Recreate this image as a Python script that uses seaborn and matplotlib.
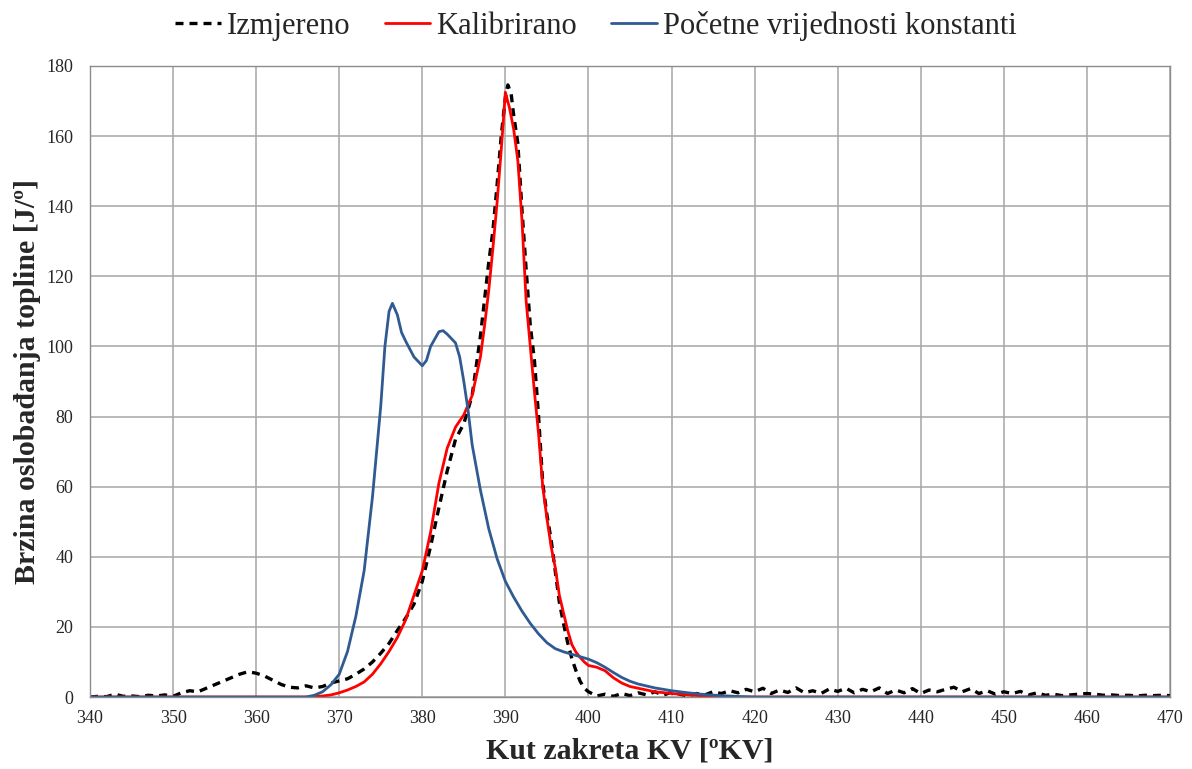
import numpy as np
import pandas as pd
import seaborn as sns
from matplotlib import pyplot as plt

# Izmjereno (measured)
izm_x = [340, 341, 342, 343, 344, 345, 346, 347, 348, 349, 350, 351, 352, 353, 354, 355,
         356, 357, 358, 359, 360, 361, 362, 363, 364, 365, 366, 367, 368, 369, 370, 371,
         372, 373, 374, 375, 376, 377, 378, 379, 380, 381, 382, 383, 384, 385, 386, 387,
         388, 388.5, 389, 389.5, 390, 390.3, 390.7, 391, 391.5, 392, 392.5, 393, 393.5,
         394, 394.5, 395, 395.5, 396, 396.5, 397, 397.5, 398, 398.5, 399, 399.5, 400,
         401, 402, 403, 404, 405, 406, 407, 408, 409, 410, 411, 412, 413, 414, 415, 416,
         417, 418, 419, 420, 421, 422, 423, 424, 425, 426, 427, 428, 429, 430, 431, 432,
         433, 434, 435, 436, 437, 438, 439, 440, 441, 442, 443, 444, 445, 446, 447, 448,
         449, 450, 451, 452, 453, 454, 455, 456, 457, 458, 459, 460, 461, 462, 463, 464,
         465, 466, 467, 468, 469, 470]
izm_y = [0.0, 0.2, 0.1, 0.8, 0.2, 0.3, 0.1, 0.5, 0.3, 0.6, 0.2, 1.2, 1.8, 1.5, 2.5, 3.5,
         4.5, 5.5, 6.5, 7.2, 6.8, 6.0, 4.8, 3.6, 2.8, 2.6, 3.2, 2.6, 3.0, 4.0, 4.6, 5.2,
         6.5, 8.0, 10.0, 12.5, 15.3, 19.0, 22.5, 26.5, 33.0, 43.0, 54.0, 64.5, 73.5, 78.0,
         86.0, 103.0, 124.0, 133.0, 146.0, 160.0, 171.0, 174.6, 172.0, 166.0, 158.0, 139.0,
         122.0, 106.0, 96.0, 80.0, 61.0, 52.0, 45.0, 36.0, 27.0, 21.0, 15.5, 11.0, 7.5,
         4.5, 2.5, 1.5, 0.3, 0.8, 0.2, 1.0, 0.4, 1.2, 0.6, 1.5, 0.5, 1.4, 0.8, 0.3, 1.0,
         0.6, 1.5, 1.0, 1.8, 1.2, 2.2, 1.5, 2.5, 1.0, 2.0, 1.3, 2.6, 1.2, 1.8, 1.0, 2.3,
         1.6, 2.5, 1.2, 2.2, 1.5, 2.6, 1.0, 2.0, 1.2, 2.4, 1.0, 2.0, 1.5, 2.2, 2.8, 1.5,
         2.4, 1.0, 1.8, 0.8, 1.5, 1.0, 1.6, 0.6, 1.2, 0.5, 0.8, 0.4, 0.6, 0.8, 1.0, 0.8,
         0.5, 0.6, 0.4, 0.5, 0.3, 0.5, 0.4, 0.5, 0.4]

# Kalibrirano (calibrated model)
kal_x = [340, 366, 367, 368, 369, 370, 371, 372, 373, 374, 375, 376, 377, 378, 379, 380,
         381, 382, 383, 384, 385, 386, 387, 387.5, 388, 388.5, 389, 389.5, 390, 390.5,
         391, 391.5, 392, 392.5, 393, 393.5, 394, 394.5, 395, 395.5, 396, 396.5, 397,
         397.5, 398, 398.5, 399, 399.5, 400, 401, 402, 403, 404, 405, 406, 408, 410, 412,
         414, 416, 418, 470]
kal_y = [0.0, 0.0, 0.1, 0.3, 0.6, 1.2, 2.0, 3.0, 4.3, 6.5, 9.5, 13.0, 17.0, 22.0, 29.0,
         36.0, 47.0, 61.0, 71.0, 77.0, 80.5, 86.0, 97.0, 106.0, 116.0, 128.0, 141.0,
         156.0, 172.5, 168.0, 162.0, 153.0, 136.0, 113.0, 100.0, 87.0, 75.0, 60.0, 51.0,
         43.0, 37.0, 29.0, 24.0, 19.0, 15.0, 12.8, 11.3, 10.0, 9.0, 8.5, 7.5, 5.5, 4.0,
         3.0, 2.5, 1.5, 1.0, 0.6, 0.3, 0.05, 0.0, 0.0]

# Pocetne vrijednosti konstanti (initial constants)
poc_x = [340, 366, 367, 368, 369, 370, 371, 372, 373, 374, 375, 375.5, 376, 376.4, 377,
         377.5, 378, 379, 380, 380.5, 381, 382, 382.5, 383, 384, 384.5, 385, 385.5, 386,
         387, 388, 389, 390, 391, 392, 393, 394, 395, 396, 397, 398, 399, 400, 401, 402,
         403, 404, 405, 406, 408, 410, 412, 414, 416, 418, 420, 470]
poc_y = [0.0, 0.0, 0.5, 1.5, 3.5, 6.5, 13.0, 23.0, 36.0, 57.0, 83.0, 100.0, 110.0, 112.3,
         109.0, 104.0, 101.5, 97.0, 94.5, 96.0, 100.0, 104.2, 104.5, 103.5, 101.0, 97.0,
         90.0, 82.0, 72.0, 59.0, 48.0, 39.5, 33.0, 28.5, 24.5, 21.0, 18.0, 15.5, 13.8,
         12.9, 12.2, 11.5, 10.8, 9.8, 8.5, 7.0, 5.6, 4.5, 3.7, 2.6, 1.8, 1.2, 0.7, 0.4,
         0.15, 0.0, 0.0]

labels = ['Izmjereno', 'Kalibrirano', 'Početne vrijednosti konstanti']
x_ticks = list(range(340, 471, 10))
y_ticks = list(range(0, 181, 20))

sns.set_style('white')
plt.rcParams['font.family'] = ['Liberation Serif', 'DejaVu Serif']

fig = plt.figure(figsize=(11.92, 7.69), dpi=100)
ax = fig.add_axes([0.0755, 0.0936, 0.906, 0.8206])

df_izm = pd.DataFrame({'x': izm_x, 'y': izm_y})
df_kal = pd.DataFrame({'x': kal_x, 'y': kal_y})
df_poc = pd.DataFrame({'x': poc_x, 'y': poc_y})

sns.lineplot(data=df_izm, x='x', y='y', ax=ax, color='black', linewidth=2.4,
             linestyle=(0, (2.4, 1.8)), label=labels[0])
sns.lineplot(data=df_kal, x='x', y='y', ax=ax, color='#ff0000', linewidth=2.0,
             label=labels[1])
sns.lineplot(data=df_poc, x='x', y='y', ax=ax, color='#2f5a92', linewidth=2.0,
             label=labels[2])

ax.set_xlim(340, 470)
ax.set_ylim(0, 180)
ax.set_xticks(x_ticks)
ax.set_yticks(y_ticks)
ax.grid(True, color='#a6a6a6', linewidth=1.1)
for s in ax.spines.values():
    s.set_color('#8c8c8c')
    s.set_linewidth(1.0)
ax.tick_params(axis='both', labelsize=13, length=0)
ax.tick_params(axis='x', pad=9)
ax.tick_params(axis='y', pad=12)

ax.set_xlabel('Kut zakreta KV [ºKV]', fontsize=21.5, fontweight='bold', labelpad=8)
ax.set_ylabel('Brzina oslobađanja topline [J/º]', fontsize=21.5, fontweight='bold', labelpad=4)

handles, lbls = ax.get_legend_handles_labels()
ax.get_legend().remove()
fig.legend(handles, lbls, loc='upper center', bbox_to_anchor=(0.5, 1.022), ncol=3,
           frameon=False, fontsize=22, handlelength=1.5, handletextpad=0.2,
           columnspacing=1.1)

fig.savefig('out.png', dpi=100)
